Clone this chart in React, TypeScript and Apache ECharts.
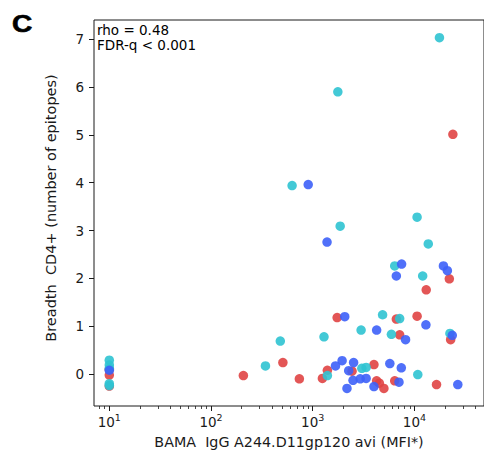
import React, { useEffect, useRef } from "react";
import * as echarts from "echarts";

// Data (x = MFI, y = breadth with jitter)
const cyanX = [10, 10, 10, 10, 10, 343, 480, 1291, 4863, 7160, 2990, 5940, 22340, 1393, 3040, 3350, 10790, 627, 1862, 10620, 13680, 6400, 12050, 17620, 1766];
const cyanY = [0.29, 0.19, 0.12, -0.2, -0.24, 0.17, 0.69, 0.78, 1.24, 1.16, 0.92, 0.83, 0.85, -0.03, 0.12, 0.14, -0.01, 3.94, 3.09, 3.28, 2.72, 2.26, 2.05, 7.03, 5.9];

const blueX = [10, 2065, 12970, 4250, 8180, 23550, 1945, 1675, 2523, 2258, 2172, 2490, 2930, 3350, 4000, 5730, 7430, 7050, 26700, 903, 1383, 7480, 6640, 19280, 21080];
const blueY = [0.08, 1.2, 1.03, 0.92, 0.72, 0.81, 0.28, 0.17, 0.24, 0.07, -0.3, -0.13, -0.1, -0.09, -0.26, 0.22, 0.13, -0.17, -0.22, 3.96, 2.76, 2.3, 2.05, 2.26, 2.16];

const redX = [10, 10, 10, 208, 509, 739, 1738, 6640, 10620, 7160, 22700, 1393, 1245, 2434, 4000, 4250, 4520, 5010, 6400, 16490, 22030, 13060, 23880];
const redY = [0.1, -0.02, -0.25, -0.03, 0.24, -0.1, 1.18, 1.15, 1.21, 0.82, 0.72, 0.08, -0.09, 0.06, 0.2, -0.14, -0.19, -0.3, -0.14, -0.22, 1.99, 1.76, 5.01];

const xMajorExp = [1, 2, 3, 4];
const xMinorMult = [2, 3, 4, 5, 6, 7, 8, 9];
const yTicks = [0, 1, 2, 3, 4, 5, 6, 7];
const statLines = ["rho = 0.48", "FDR-q < 0.001"];

export default function App() {
  const ref = useRef<HTMLDivElement>(null);
  useEffect(() => {
    if (!ref.current) return;
    const chart = echarts.init(ref.current, null, { renderer: "svg" });
    const xMin = 0.8495;
    const xMax = 4.684;
    const minors: number[] = [];
    for (let e = 0; e <= 4; e++) {
      for (const m of xMinorMult) {
        const v = Math.log10(m * Math.pow(10, e));
        if (v > xMin && v < xMax) minors.push(v);
      }
    }
    const font = "DejaVu Sans";
    const ink = "#1a1a1a";
    const mk = (xs: number[], ys: number[]) => xs.map((x, i) => [Math.log10(x), ys[i]]);
    const series = [
      { data: mk(redX, redY), color: "#e04444" },
      { data: mk(cyanX, cyanY), color: "#2fc3d2" },
      { data: mk(blueX, blueY), color: "#3d60f8" },
    ].map((s) => ({
      type: "scatter",
      xAxisIndex: 0,
      yAxisIndex: 0,
      data: s.data,
      symbolSize: 9.5,
      itemStyle: { color: s.color, opacity: 0.9 },
      emphasis: { disabled: true },
    }));
    chart.setOption({
      animation: false,
      backgroundColor: "#ffffff",
      textStyle: { fontFamily: font },
      grid: {
        left: 94,
        top: 20,
        width: 395,
        height: 387,
        show: true,
        borderColor: ink,
        borderWidth: 1,
        backgroundColor: "transparent",
      },
      xAxis: [
        {
          type: "value",
          min: xMin,
          max: xMax,
          position: "bottom",
          axisLine: { show: false, onZero: false },
          splitLine: { show: false },
          axisTick: { show: true, length: 5, customValues: xMajorExp, lineStyle: { color: ink, width: 1 } },
          axisLabel: {
            customValues: xMajorExp,
            margin: 6,
            color: ink,
            formatter: (v: number) => "{b|10}{s|" + Math.round(v) + "}",
            rich: {
              b: { fontFamily: font, fontSize: 13.5, color: ink, lineHeight: 17, verticalAlign: "bottom" },
              s: { fontFamily: font, fontSize: 9.5, color: ink, lineHeight: 17, verticalAlign: "top" },
            },
          },
          name: "BAMA  IgG A244.D11gp120 avi (MFI*)",
          nameLocation: "middle",
          nameGap: 29,
          nameTextStyle: { fontFamily: font, fontSize: 14.3, color: ink },
        },
        {
          type: "value",
          min: xMin,
          max: xMax,
          position: "bottom",
          axisLine: { show: false, onZero: false },
          splitLine: { show: false },
          axisTick: { show: true, length: 3, customValues: minors, lineStyle: { color: ink, width: 0.8 } },
          axisLabel: { show: false },
        },
      ],
      yAxis: {
        type: "value",
        min: -0.667,
        max: 7.4,
        axisLine: { show: false, onZero: false },
        splitLine: { show: false },
        axisTick: { show: true, length: 5, customValues: yTicks, lineStyle: { color: ink, width: 1 } },
        axisLabel: { customValues: yTicks, margin: 10, fontFamily: font, fontSize: 13.5, color: ink },
        name: "Breadth  CD4+ (number of epitopes)",
        nameLocation: "middle",
        nameGap: 36,
        nameTextStyle: { fontFamily: font, fontSize: 14.5, color: ink, padding: [0, 0, 0, 10] },
      },
      graphic: [
        {
          type: "text",
          x: 12,
          y: 12,
          scaleX: 1.22,
          style: {
            text: "C",
            fontFamily: "Liberation Sans",
            fontWeight: "bold",
            fontSize: 23,
            fill: "#000",
            stroke: "#000",
            lineWidth: 0.6,
            textVerticalAlign: "top",
          },
        },
        {
          type: "text",
          left: 97,
          top: 22,
          style: { text: statLines.join("\n"), fontFamily: font, fontSize: 13.5, lineHeight: 15.5, fill: "#000" },
        },
      ],
      series,
    });
    return () => chart.dispose();
  }, []);
  return (
    <div style={{ position: "fixed", left: 0, top: 0, width: 484, height: 454, overflow: "hidden", background: "#fff" }}>
      <div ref={ref} style={{ width: 484, height: 454 }} />
    </div>
  );
}
